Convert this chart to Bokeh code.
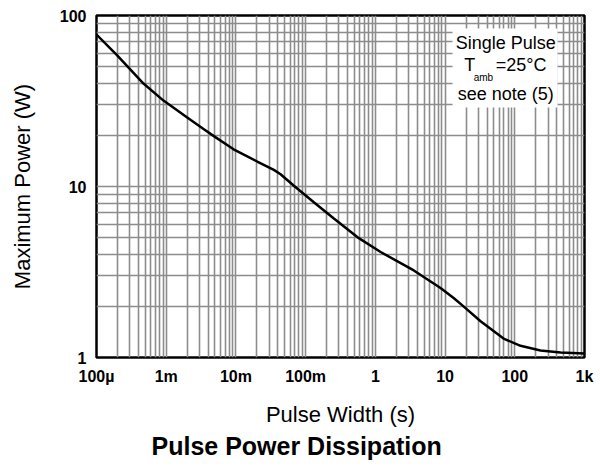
from bokeh.plotting import figure
from bokeh.models import FixedTicker, BoxAnnotation, Label, Title
from bokeh.embed import file_html
from bokeh.resources import INLINE

# ---- data ----
pulse_width = [1.0e-4, 1.98e-4, 4.72e-4, 9.14e-4, 2.0e-3, 3.43e-3, 4.82e-3, 9.25e-3,
               2.02e-2, 3.50e-2, 4.37e-2, 6.78e-2, 0.131, 0.254, 0.550, 1.19, 3.56,
               8.61, 13.4, 18.4, 32.3, 69.0, 121, 234, 454, 1000]
max_power = [77.4, 58.4, 40.0, 31.8, 25.3, 21.7, 19.7, 16.5,
             14.0, 12.5, 11.8, 10.1, 8.09, 6.50, 5.06, 4.14, 3.23,
             2.55, 2.22, 1.99, 1.63, 1.29, 1.17, 1.10, 1.07, 1.054]

x_ticks = [1e-4, 1e-3, 1e-2, 1e-1, 1, 10, 100, 1000]
x_tick_labels = ["100µ", "1m", "10m", "100m", "1", "10", "100", "1k"]
y_ticks = [1, 10, 100]
y_tick_labels = ["1", "10", "100"]

note_lines = ["Single Pulse", "T", "amb", "=25°C", "see note (5)"]

FONT = "Liberation Sans"

p = figure(width=598, height=460, x_axis_type="log", y_axis_type="log",
           x_range=(1e-4, 1e3), y_range=(1, 100),
           output_backend="svg", toolbar_location=None,
           min_border_left=96, min_border_right=14, min_border_top=15,
           min_border_bottom=103)

p.outline_line_color = "black"
p.outline_line_width = 2.5
p.outline_line_alpha = 1.0

# grid: every 1..9 x decade
x_grid = [m * 10.0 ** e for e in range(-4, 3) for m in range(1, 10)] + [1000.0]
y_grid = [m * 10.0 ** e for e in range(0, 2) for m in range(1, 10)] + [100.0]
p.xgrid.ticker = FixedTicker(ticks=x_grid)
p.ygrid.ticker = FixedTicker(ticks=y_grid)
for g in (p.xgrid, p.ygrid):
    g.grid_line_color = "#8c8c8c"
    g.grid_line_width = 1.6
    g.minor_grid_line_color = None

p.xaxis.ticker = FixedTicker(ticks=x_ticks)
p.yaxis.ticker = FixedTicker(ticks=y_ticks)
p.xaxis.major_label_overrides = {t: l for t, l in zip(x_ticks, x_tick_labels)}
p.yaxis.major_label_overrides = {t: l for t, l in zip(y_ticks, y_tick_labels)}

for ax in (p.xaxis, p.yaxis):
    ax.axis_line_color = None
    ax.major_tick_line_color = None
    ax.minor_tick_line_color = None
    ax.major_tick_out = 0
    ax.major_tick_in = 0
    ax.major_label_text_font = FONT
    ax.major_label_text_font_style = "bold"
    ax.major_label_text_font_size = "16px"
    ax.major_label_text_color = "black"
    ax.axis_label_text_font = FONT
    ax.axis_label_text_font_style = "normal"
    ax.axis_label_text_font_size = "22px"
    ax.axis_label_text_color = "black"

p.xaxis.major_label_standoff = 10
p.yaxis.major_label_standoff = 10
p.xaxis.axis_label = "Pulse Width (s)"
p.yaxis.axis_label = "Maximum Power (W)"
p.xaxis.axis_label_standoff = 14
p.yaxis.axis_label_standoff = 22

p.line(pulse_width, max_power, line_color="black", line_width=2.5)

# note box
p.add_layout(BoxAnnotation(left=12.8, right=411, bottom=29, top=84,
                           fill_color="white", fill_alpha=1.0, line_color=None))
ax_, ay_ = 74, 68.6
common = dict(x=ax_, y=ay_, text_font=FONT, text_color="black", text_baseline="middle")
p.add_layout(Label(text=note_lines[0], text_align="center", text_font_size="18px", **common))
p.add_layout(Label(text=note_lines[1], text_align="center", text_font_size="18px",
                   x_offset=-36, y_offset=-22, **common))
p.add_layout(Label(text=note_lines[2], text_align="left", text_font_size="10px",
                   x_offset=-32, y_offset=-34, **common))
p.add_layout(Label(text=note_lines[3], text_align="left", text_font_size="18px",
                   x_offset=-10, y_offset=-22, **common))
p.add_layout(Label(text=note_lines[4], text_align="center", text_font_size="18px",
                   y_offset=-51, **common))

p.add_layout(Title(text="Pulse Power Dissipation", align="left", offset=55,
                   text_font=FONT, text_font_size="25px", text_font_style="bold",
                   text_color="black", standoff=0), "below")

open("out.html", "w").write(file_html(p, INLINE))
